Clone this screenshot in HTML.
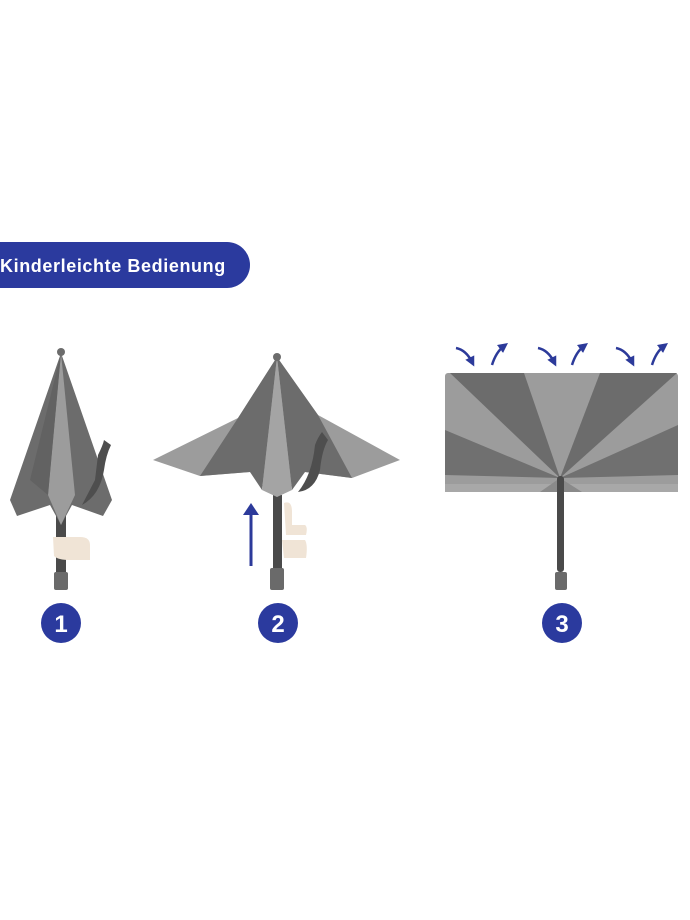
<!DOCTYPE html>
<html><head><meta charset="utf-8"><style>
html,body{margin:0;padding:0;background:#fff;width:690px;height:920px;overflow:hidden}
svg{display:block}
</style></head><body>
<svg width="690" height="920" viewBox="0 0 690 920" xmlns="http://www.w3.org/2000/svg">
<defs>
<marker id="ah" markerWidth="4" markerHeight="4" refX="2" refY="2" orient="auto"><path d="M0,0 L4,2 L0,4 z" fill="#2c3a9a"/></marker>
</defs>
<!-- banner -->
<path d="M-10,242 H227 A23,23 0 0 1 227,288 H-10 Z" fill="#2b3a9e"/>
<text x="0" y="272" font-family="Liberation Sans, sans-serif" font-weight="bold" font-size="18" letter-spacing="0.6" fill="#fff">Kinderleichte Bedienung</text>

<!-- umbrella 1 -->
<rect x="56" y="515" width="10" height="57" fill="#4a4a4a"/>
<rect x="54" y="572" width="14" height="18" rx="2" fill="#6a6a6a"/>
<path d="M61,353 L10,500 L17,516 L50,505 L61,525 L72,505 L103,516 L112,500 Z" fill="#6c6c6c"/>
<path d="M61,353 L48,495 L61,525 L75,495 Z" fill="#9c9c9c"/>
<path d="M61,353 L30,480 L48,495 Z" fill="#626262"/>
<path d="M98,455 Q103,445 104,440 L111,445 Q106,455 104,470 Q100,495 82,505 L95,480 Z" fill="#4e4e4e"/>
<circle cx="61" cy="352" r="4" fill="#6c6c6c"/>
<path d="M53,537 H80 Q90,537 90,545 V560 H70 Q58,560 54,556 Z" fill="#f0e4d6"/>

<!-- umbrella 2 -->
<rect x="273" y="495" width="9" height="73" fill="#4a4a4a"/>
<rect x="270" y="568" width="14" height="22" rx="2" fill="#6a6a6a"/>
<path d="M277,357 L238,418 L153,460 L200,476 L250,472 L277,497 L305,472 L352,478 L400,460 L318,415 Z" fill="#9c9c9c"/>
<path d="M277,357 L238,418 L200,476 L250,472 L262,490 Z" fill="#6c6c6c"/>
<path d="M277,357 L292,490 L305,472 L352,478 L318,415 Z" fill="#6c6c6c"/>
<path d="M277,357 L262,490 L277,497 L292,490 Z" fill="#a4a4a4"/>
<path d="M315,445 Q318,437 322,432 L328,440 Q322,450 320,470 Q315,490 298,492 Q312,475 315,445 Z" fill="#4e4e4e"/>
<circle cx="277" cy="357" r="4" fill="#6c6c6c"/>
<path d="M284,503 Q292,500 292,512 V525 H305 Q308,527 306,535 H286 Z" fill="#f0e4d6"/>
<path d="M282,540 H305 Q308,545 306,558 H284 Z" fill="#f0e4d6"/>
<line x1="251" y1="566" x2="251" y2="512" stroke="#2c3a9a" stroke-width="3"/>
<path d="M243,515 L251,503 L259,515 Z" fill="#2c3a9a"/>

<!-- umbrella 3 -->
<rect x="445" y="373" width="233" height="119" rx="3" fill="#9c9c9c"/>
<path d="M450,373 L524,373 L560,478 Z" fill="#6c6c6c"/>
<path d="M445,438 L560,478 L445,470 Z" fill="#6c6c6c"/>
<path d="M600,373 L677,373 L560,478 Z" fill="#6c6c6c"/>
<path d="M678,440 L678,470 L560,478 Z" fill="#6c6c6c"/>
<path d="M445,430 L560,478 L445,475 Z" fill="#707070"/>
<path d="M678,425 L560,478 L678,475 Z" fill="#707070"/>
<rect x="445" y="484" width="233" height="8" fill="#a8a8a8"/>
<path d="M540,492 L560,478 L582,492 Z" fill="#8a8a8a"/>
<rect x="557" y="476" width="7" height="96" rx="3" fill="#4a4a4a"/>
<rect x="555" y="572" width="12" height="18" rx="2" fill="#6a6a6a"/>
<g fill="none" stroke="#2c3a9a" stroke-width="2.5">
<path d="M456,348 Q466,350 472,362" marker-end="url(#ah)"/>
<path d="M492,365 Q496,352 504,346" marker-end="url(#ah)"/>
<path d="M538,348 Q548,350 554,362" marker-end="url(#ah)"/>
<path d="M572,365 Q576,352 584,346" marker-end="url(#ah)"/>
<path d="M616,348 Q626,350 632,362" marker-end="url(#ah)"/>
<path d="M652,365 Q656,352 664,346" marker-end="url(#ah)"/>
</g>

<!-- number circles -->
<g font-family="Liberation Sans, sans-serif" font-weight="bold" font-size="24" fill="#fff" text-anchor="middle">
<circle cx="61" cy="623" r="20" fill="#2b3a9e"/><text x="61" y="632">1</text>
<circle cx="278" cy="623" r="20" fill="#2b3a9e"/><text x="278" y="632">2</text>
<circle cx="562" cy="623" r="20" fill="#2b3a9e"/><text x="562" y="632">3</text>
</g>
</svg>
</body></html>
